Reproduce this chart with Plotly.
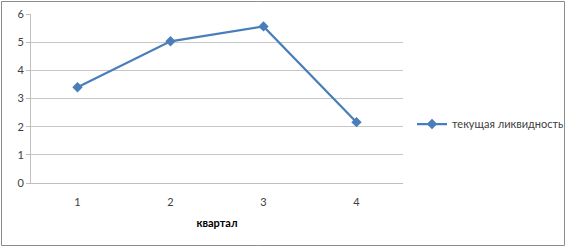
import plotly.graph_objects as go

quarters = ["1", "2", "3", "4"]
liquidity = [3.40, 5.03, 5.56, 2.16]
series_name = "текущая ликвидность"
x_title = "квартал"
y_ticks = [0, 1, 2, 3, 4, 5, 6]

W, H = 566, 247
L, R, T, B = 31, 163, 14, 64
pw, ph = W - L - R, H - T - B

fig = go.Figure()
fig.add_trace(go.Scatter(
    x=quarters, y=liquidity, name=series_name, mode="lines+markers",
    line=dict(color="#4A7EBB", width=2.25),
    marker=dict(symbol="diamond", size=8, color="#4A7EBB"),
))

font = "Lato, 'Open Sans', sans-serif"
fig.update_layout(
    width=W, height=H,
    margin=dict(l=L, r=R, t=T, b=B, autoexpand=False),
    paper_bgcolor="white", plot_bgcolor="white",
    font=dict(family=font, size=11, color="#404040"),
    showlegend=True,
    legend=dict(x=(412 - L) / pw, y=(H - B - 124) / ph, xanchor="left", yanchor="middle",
                font=dict(size=11, color="#404040"), bgcolor="rgba(0,0,0,0)",
                itemwidth=30),
    xaxis=dict(
        type="category", range=[-0.5, 3.5],
        showline=True, linecolor="#BFBFBF", linewidth=1,
        showgrid=False, ticks="outside", ticklen=9, tickcolor="rgba(0,0,0,0)",
        tickfont=dict(size=11, color="#404040"),
        title=dict(text="<b>" + x_title + "</b>", font=dict(size=11, color="#000000"), standoff=12),
    ),
    yaxis=dict(
        range=[0, 6], tickvals=y_ticks, showline=True, linecolor="#BFBFBF", linewidth=1,
        ticks="outside", ticklen=4, tickcolor="#BFBFBF",
        showgrid=True, gridcolor="#C8C8C8", gridwidth=1, zeroline=False,
        tickfont=dict(size=11, color="#404040"),
    ),
    shapes=[dict(type="rect", xref="paper", yref="paper",
                 x0=(1.5 - L) / pw, x1=(564.5 - L) / pw,
                 y0=(H - B - 245.5) / ph, y1=(H - B - 1.5) / ph,
                 line=dict(color="#8C8C8C", width=1), fillcolor="rgba(0,0,0,0)")],
)

fig.write_html("out.html")
